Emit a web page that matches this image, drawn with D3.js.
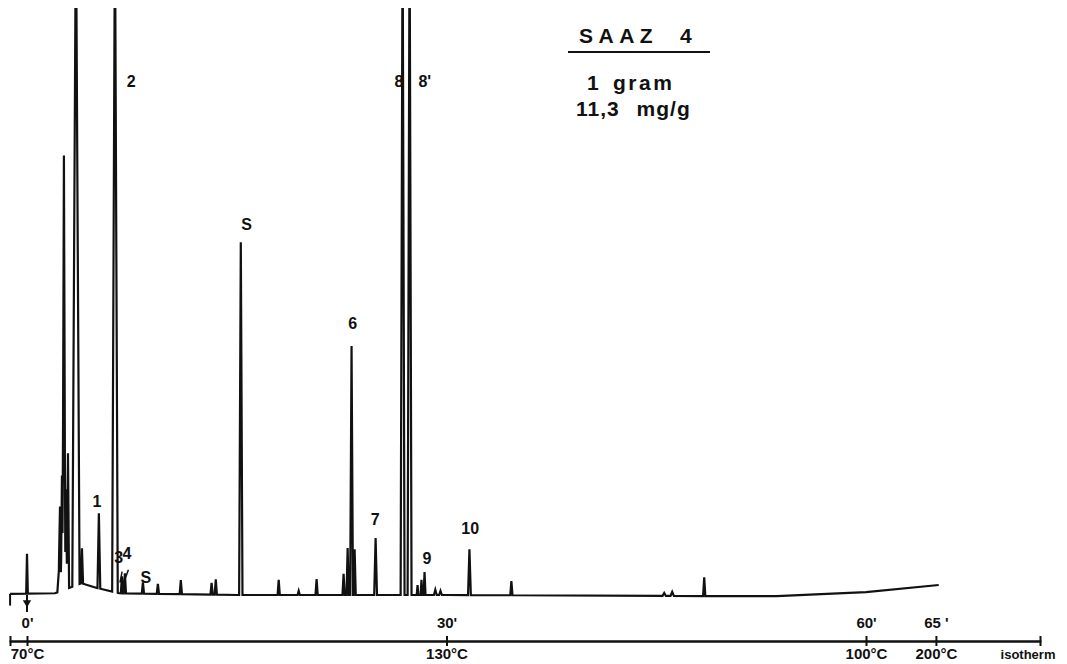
<!DOCTYPE html>
<html><head><meta charset="utf-8">
<script src="https://cdn.jsdelivr.net/npm/d3@7"></script>
<style>body{margin:0;background:#fff}svg{display:block}text{font-family:"Liberation Sans",Arial,sans-serif;fill:#111}</style>
</head><body>
<svg id="c" width="1067" height="664"></svg>
<script>
// Retention times (minutes) of peaks, heights (% of full scale), half-widths (min)
const peakTimes   = [0.0, 2.29, 2.36, 2.5, 2.64, 2.79, 2.93, 3.5, 3.93, 5.14, 6.29, 6.79, 7.0, 8.29, 9.36, 11.0, 13.2, 13.5, 15.29, 18.0, 19.43, 20.71, 22.64, 22.93, 23.21, 23.43, 24.93, 26.86, 27.36, 27.93, 28.21, 28.43, 29.2, 29.57, 31.64, 34.64, 45.57, 46.14, 48.43];
const peakHeights = [6.8, 4.0, 12.8, 19.6, 74.0, 17.0, 23.0, 115, 6.0, 12.8, 115, 2.9, 3.4, 1.9, 1.7, 2.4, 2.0, 2.6, 60.1, 2.6, 0.7, 2.7, 3.6, 8.0, 42.4, 7.8, 9.7, 115, 115, 1.7, 2.6, 3.9, 0.9, 0.7, 7.8, 2.4, 0.5, 0.7, 3.2];
const peakWidths  = [0.06, 0.12, 0.08, 0.08, 0.1, 0.08, 0.08, 0.26, 0.08, 0.1, 0.2, 0.08, 0.08, 0.08, 0.08, 0.08, 0.08, 0.08, 0.12, 0.08, 0.08, 0.08, 0.08, 0.08, 0.1, 0.08, 0.1, 0.14, 0.14, 0.06, 0.06, 0.07, 0.1, 0.1, 0.1, 0.08, 0.12, 0.12, 0.08];
// baseline drift
const baseTimes  = [-1.21, 2.0, 3.9, 5.0, 6.6, 15, 30, 50, 53.6, 60, 65.2];
const baseValues = [0.2, 0.3, 2.0, 1.2, 0.3, 0, 0, -0.2, -0.2, 0.5, 1.7];
// peak labels
const labelTexts = ["1", "2", "3", "4", "S", "S", "6", "7", "8", "8'", "9", "10"];
const labelTimes = [5.0, 7.45, 6.55, 7.15, 8.5, 15.7, 23.3, 24.9, 26.6, 28.45, 28.6, 31.7];
const labelValues= [15.0, 86.5, 5.5, 6.1, 2.1, 62.2, 45.4, 11.9, 86.5, 86.5, 5.2, 10.4];
// time axis
const minuteTicks = [0, 30, 60, 65];
const minuteLabels = ["0'", "30'", "60'", "65 '"];
const tempLabels = ["70°C", "130°C", "100°C", "200°C"];

const svg = d3.select("#c");
const x = d3.scaleLinear().domain([0, 60]).range([27, 866]);
const y = d3.scaleLinear().domain([0, 100]).range([595, 8]);

const base = d3.scaleLinear().domain(baseTimes).range(baseValues).clamp(true);
let ts = baseTimes.slice();
peakTimes.forEach((t, i) => { ts.push(t - peakWidths[i], t, t + peakWidths[i]); });
ts = Array.from(new Set(ts)).sort((a, b) => a - b).filter(t => t >= baseTimes[0] && t <= baseTimes[baseTimes.length - 1]);
const trace = ts.map(t => {
  let v = base(t);
  peakTimes.forEach((p, i) => { v += Math.max(0, peakHeights[i] * (1 - Math.abs(t - p) / peakWidths[i])); });
  return [t, v];
});

svg.append("clipPath").attr("id", "clip").append("rect")
  .attr("x", 0).attr("y", y(100)).attr("width", 1067).attr("height", 664);

const line = d3.line().x(d => x(d[0])).y(d => y(d[1]));
svg.append("path").datum(trace).attr("d", line).attr("clip-path", "url(#clip)")
  .attr("fill", "none").attr("stroke", "#111").attr("stroke-width", 2.2).attr("stroke-linejoin", "miter");

// left hook and injection marker
svg.append("path").datum([[baseTimes[0], -1.8], [baseTimes[0], baseValues[0]]]).attr("d", line)
  .attr("fill", "none").attr("stroke", "#111").attr("stroke-width", 2);
svg.append("path").datum([[0, 0], [0, -2.9]]).attr("d", line)
  .attr("fill", "none").attr("stroke", "#111").attr("stroke-width", 2);
svg.append("path")
  .attr("d", d3.symbol(d3.symbolTriangle, 30)())
  .attr("transform", `translate(${x(0)},${y(-1.3)}) rotate(180)`).attr("fill", "#111");

// peak labels
svg.selectAll("text.pk").data(labelTexts).join("text").attr("class", "pk")
  .attr("x", (d, i) => x(labelTimes[i])).attr("y", (d, i) => y(labelValues[i]))
  .attr("text-anchor", "middle").attr("font-size", 16).attr("font-weight", "bold").text(d => d);
svg.append("path").datum([[6.8, 4.0], [6.65, 2.1]]).attr("d", line).attr("stroke", "#111").attr("stroke-width", 1.5);
svg.append("path").datum([[7.25, 4.3], [6.95, 2.3]]).attr("d", line).attr("stroke", "#111").attr("stroke-width", 1.5);

// time axis
const ax = x.copy().domain([x.invert(10), x.invert(1040)]).range([10, 1040]);
const gTop = svg.append("g").attr("transform", "translate(0,641)")
  .call(d3.axisTop(ax).tickValues(minuteTicks).tickSize(5).tickFormat((d, i) => minuteLabels[i]));
const gBot = svg.append("g").attr("transform", "translate(0,641)")
  .call(d3.axisBottom(ax).tickValues(minuteTicks).tickSize(5).tickFormat((d, i) => tempLabels[i]));
[gTop, gBot].forEach(g => {
  g.selectAll("path.domain").attr("stroke", "#111").attr("stroke-width", 2);
  g.selectAll(".tick line").attr("stroke", "#111").attr("stroke-width", 2);
  g.selectAll(".tick text").attr("font-size", 15).attr("font-weight", "bold")
    .attr("font-family", "Liberation Sans, Arial, sans-serif").attr("fill", "#111");
});
gTop.selectAll(".tick text").attr("dy", "0").attr("y", -13);
gBot.selectAll(".tick text").attr("dy", "0").attr("y", 18);
svg.append("text").attr("x", 1028).attr("y", 659).attr("text-anchor", "middle")
  .attr("font-size", 13).attr("font-weight", "bold").text("isotherm");

// title block
svg.append("text").attr("x", 579).attr("y", 43).attr("font-size", 21).attr("font-weight", "bold")
  .attr("letter-spacing", 5.5).text("SAAZ");
svg.append("text").attr("x", 680).attr("y", 43).attr("font-size", 21).attr("font-weight", "bold").text("4");
svg.append("line").attr("x1", 568).attr("x2", 710).attr("y1", 52).attr("y2", 52)
  .attr("stroke", "#111").attr("stroke-width", 2);
svg.append("text").attr("x", 587).attr("y", 90).attr("font-size", 21).attr("font-weight", "bold").text("1");
svg.append("text").attr("x", 613).attr("y", 90).attr("font-size", 21).attr("font-weight", "bold")
  .attr("letter-spacing", 2.5).text("gram");
svg.append("text").attr("x", 576).attr("y", 116).attr("font-size", 21).attr("font-weight", "bold")
  .attr("letter-spacing", 1).attr("word-spacing", 10).text("11,3 mg/g");
</script>
</body></html>
